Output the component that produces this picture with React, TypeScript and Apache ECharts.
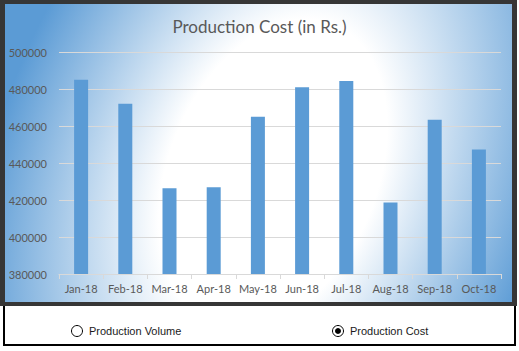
import React, { useEffect, useRef } from "react";
import * as echarts from "echarts";

const categories = ["Jan-18", "Feb-18", "Mar-18", "Apr-18", "May-18", "Jun-18", "Jul-18", "Aug-18", "Sep-18", "Oct-18"];
const productionCost = [485000, 472000, 426300, 426900, 465000, 481000, 484300, 418700, 463400, 447300];
const yMin = 380000;
const yMax = 500000;
const yInterval = 20000;
const titleText = "Production Cost (in Rs.)";
const radioLabels = ["Production Volume", "Production Cost"];
const selectedRadio = 1;

export default function App() {
  const ref = useRef<HTMLDivElement>(null);

  useEffect(() => {
    if (!ref.current) return;
    const chart = echarts.init(ref.current, undefined, { renderer: "svg" });
    const radioX = [77, 338];
    const radioY = 331;
    const graphics: any[] = [];
    radioLabels.forEach((lab, i) => {
      graphics.push({
        type: "circle",
        shape: { cx: radioX[i], cy: radioY, r: 5.5 },
        style: { fill: "#ffffff", stroke: "#000000", lineWidth: 1 },
      });
      if (i === selectedRadio) {
        graphics.push({
          type: "circle",
          shape: { cx: radioX[i], cy: radioY, r: 3 },
          style: { fill: "#000000" },
        });
      }
      graphics.push({
        type: "text",
        x: radioX[i] + 12,
        y: radioY,
        style: {
          text: lab,
          fill: "#1a1a1a",
          font: "11px 'Liberation Sans'",
          verticalAlign: "middle",
          align: "left",
        },
      });
    });

    chart.setOption({
      animation: false,
      backgroundColor: "transparent",
      title: {
        text: titleText,
        left: "center",
        top: 13,
        textStyle: { fontSize: 17, fontWeight: "normal", color: "#595959", fontFamily: "Lato" },
      },
      grid: { left: 59, right: 18, top: 52, bottom: 77 },
      xAxis: {
        type: "category",
        data: categories,
        axisLine: { lineStyle: { color: "#d9d9d9" } },
        axisTick: { show: true, length: 5, lineStyle: { color: "#d9d9d9" } },
        axisLabel: { color: "#595959", fontSize: 11, fontFamily: "Lato", margin: 9, interval: 0 },
      },
      yAxis: {
        type: "value",
        min: yMin,
        max: yMax,
        interval: yInterval,
        axisLine: { show: false },
        axisTick: { show: false },
        splitLine: { lineStyle: { color: "#d9d9d9" } },
        axisLabel: {
          color: "#595959",
          fontSize: 11,
          fontFamily: "Lato",
          margin: 12,
          formatter: (v: number) => String(v),
        },
      },
      series: [
        {
          type: "bar",
          data: productionCost,
          barWidth: 14,
          itemStyle: { color: "#5b9bd5" },
        },
      ],
      graphic: graphics,
    });
    return () => chart.dispose();
  }, []);

  return (
    <div style={{ position: "fixed", left: 0, top: 0, width: 519, height: 351, background: "#ffffff", overflow: "hidden" }}>
      <div
        style={{
          position: "absolute",
          left: 0,
          top: 0,
          width: 507,
          height: 298,
          borderStyle: "solid",
          borderColor: "#363636",
          borderWidth: "4px 5px 4px 5px",
          overflow: "hidden",
          background: "#5b9bd5",
        }}
      >
        <div
          style={{
            position: "absolute",
            left: 268 - 275,
            top: 170 - 425,
            width: 550,
            height: 850,
            transform: "rotate(22deg)",
            background: "radial-gradient(ellipse closest-side, #ffffff 0%, #ffffff 38%, #5b9bd5 100%)",
          }}
        />
      </div>
      <div
        style={{
          position: "absolute",
          left: 3,
          top: 306,
          width: 509,
          height: 38,
          border: "2px solid #000000",
          borderTop: "none",
          background: "#ffffff",
        }}
      />
      <div ref={ref} style={{ position: "absolute", left: 0, top: 0, width: 519, height: 351 }} />
    </div>
  );
}
